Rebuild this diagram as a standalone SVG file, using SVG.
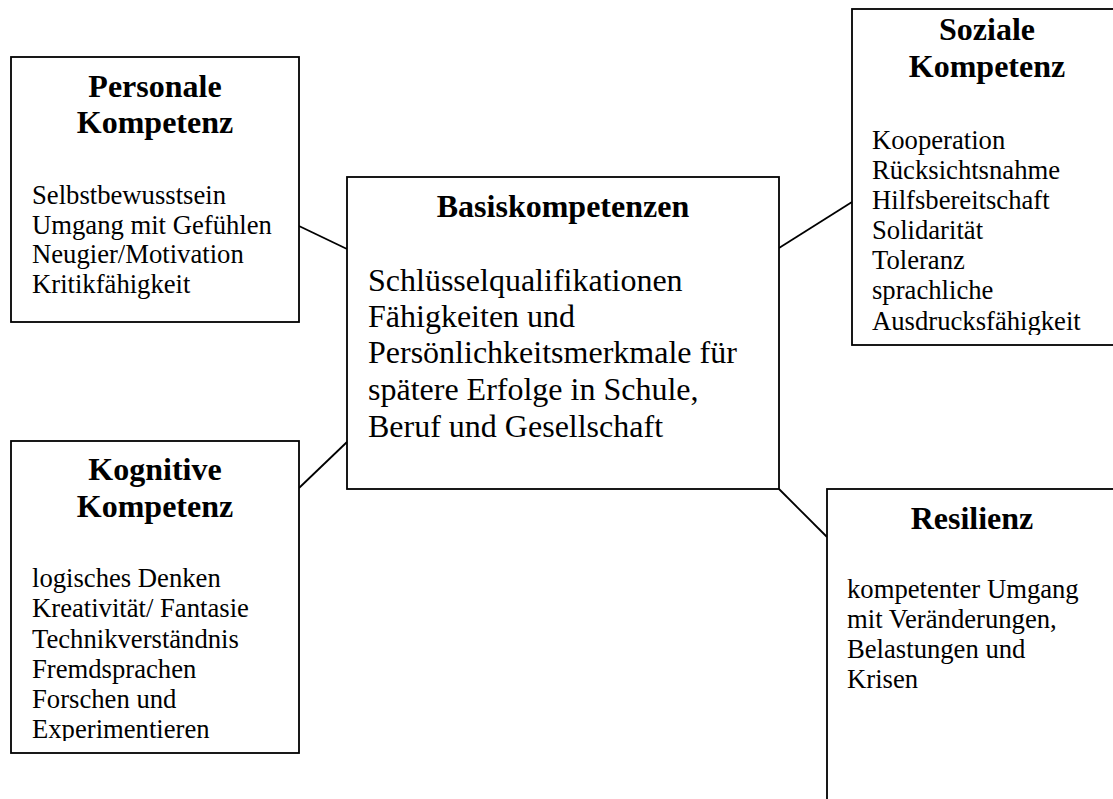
<svg xmlns="http://www.w3.org/2000/svg" width="1113" height="799" viewBox="0 0 1113 799">
<style>
.box{fill:#fff;stroke:#000;stroke-width:1.8}
.con{stroke:#000;stroke-width:1.8;fill:none}
.t{font-family:"Liberation Serif","Times New Roman",serif;font-weight:bold;font-size:32px;text-anchor:middle;fill:#000}
.b{font-family:"Liberation Serif","Times New Roman",serif;font-size:26.67px;fill:#000}
.c{font-family:"Liberation Serif","Times New Roman",serif;font-size:32px;fill:#000}
</style>
<defs>
<clipPath id="clipSoz"><rect x="852" y="9" width="270" height="326"/></clipPath>
<clipPath id="clipKog"><rect x="11" y="441" width="288" height="300"/></clipPath>
</defs>
<rect width="1113" height="799" fill="#fff"/>
<g id="connectors">
<line class="con" x1="299" y1="226" x2="347" y2="249"/>
<line class="con" x1="779" y1="248" x2="852" y2="202"/>
<line class="con" x1="299" y1="488" x2="347" y2="442"/>
<line class="con" x1="779" y1="489" x2="827" y2="537"/>
</g>
<g id="personale">
<rect class="box" x="11" y="57" width="288" height="265"/>
<text class="t" x="155" y="97">Personale</text>
<text class="t" x="155" y="133">Kompetenz</text>
<text class="b" x="32" y="204">Selbstbewusstsein</text>
<text class="b" x="32" y="233.5">Umgang mit Gefühlen</text>
<text class="b" x="32" y="263">Neugier/Motivation</text>
<text class="b" x="32" y="292.5">Kritikfähigkeit</text>
</g>
<g id="basis">
<rect class="box" x="347" y="177" width="432" height="312"/>
<text class="t" x="563" y="217">Basiskompetenzen</text>
<text class="c" x="368" y="291">Schlüsselqualifikationen</text>
<text class="c" x="368" y="327">Fähigkeiten und</text>
<text class="c" x="368" y="363">Persönlichkeitsmerkmale für</text>
<text class="c" x="368" y="399.5">spätere Erfolge in Schule,</text>
<text class="c" x="368" y="436.5">Beruf und Gesellschaft</text>
</g>
<g id="soziale">
<rect class="box" x="852" y="9" width="270" height="336"/>
<text class="t" x="987" y="40">Soziale</text>
<text class="t" x="987" y="77">Kompetenz</text>
<g clip-path="url(#clipSoz)">
<text class="b" x="872" y="149">Kooperation</text>
<text class="b" x="872" y="179">Rücksichtsnahme</text>
<text class="b" x="872" y="209">Hilfsbereitschaft</text>
<text class="b" x="872" y="239">Solidarität</text>
<text class="b" x="872" y="269">Toleranz</text>
<text class="b" x="872" y="299">sprachliche</text>
<text class="b" x="872" y="330">Ausdrucksfähigkeit</text>
</g>
</g>
<g id="kognitive">
<rect class="box" x="11" y="441" width="288" height="312"/>
<text class="t" x="155" y="480">Kognitive</text>
<text class="t" x="155" y="517">Kompetenz</text>
<g clip-path="url(#clipKog)">
<text class="b" x="32" y="587">logisches Denken</text>
<text class="b" x="32" y="617">Kreativität/ Fantasie</text>
<text class="b" x="32" y="647.5">Technikverständnis</text>
<text class="b" x="32" y="677.5">Fremdsprachen</text>
<text class="b" x="32" y="707.5">Forschen und</text>
<text class="b" x="32" y="738">Experimentieren</text>
</g>
</g>
<g id="resilienz">
<rect class="box" x="827" y="489" width="300" height="330"/>
<text class="t" x="972" y="529">Resilienz</text>
<text class="b" x="847" y="598">kompetenter Umgang</text>
<text class="b" x="847" y="628">mit Veränderungen,</text>
<text class="b" x="847" y="658">Belastungen und</text>
<text class="b" x="847" y="688">Krisen</text>
</g>
</svg>
